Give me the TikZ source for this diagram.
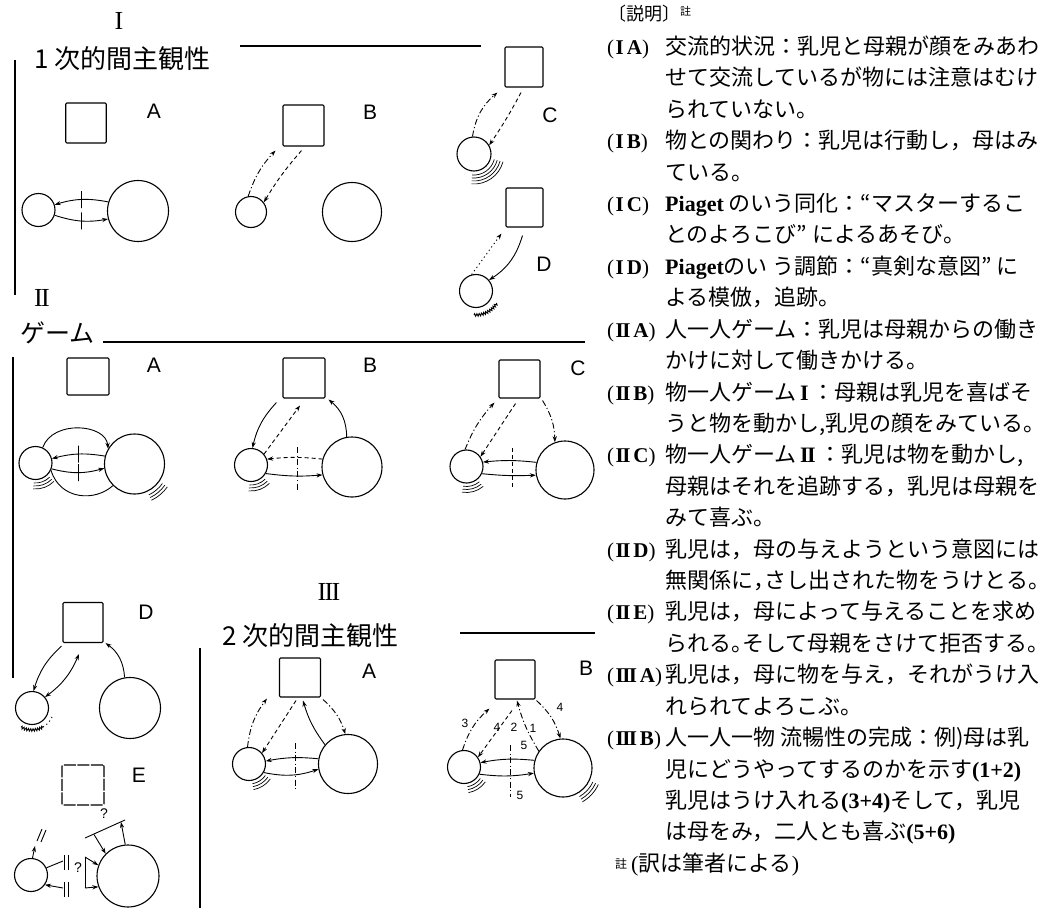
\documentclass[tikz,border=0pt]{standalone}
\usepackage{fontspec}
\setmainfont{Liberation Serif}
\newfontfamily\jp{Noto Sans CJK JP}
\newfontfamily\sa{Liberation Sans}
\usetikzlibrary{arrows.meta,calc,decorations.pathmorphing}
\newcommand\vibr[5]{%
  \foreach \k in {0,...,#3}{%
    \pgfmathsetmacro\rr{#2+3*\k}%
    \draw[vibl] ($(#1.center)+(#4:\rr pt)$) arc[start angle=#4,end angle=#5,radius=\rr pt];}}
\newcommand\RII{I\kern-1.6ptI}
\newcommand\RIII{I\kern-1.6ptI\kern-1.6ptI}
\newcommand\lat[1]{{\rmfamily\bfseries #1}}
\newcommand\labr[2]{(\hspace{1.5pt}\textbf{#1}\hspace{3pt}\textbf{#2})}
\newcommand\hp[1]{\makebox[0.5em][l]{#1}}
\newcommand\txline[4]{%
  \pgfmathsetmacro\yy{-(54.4+31.42*(#1-1))}%
  \node[lbl] (l#2) at (607,\yy) {#3};
  \node[txt] (t#2) at (665,\yy) {#4};}
\newcommand\txcont[3]{%
  \pgfmathsetmacro\yy{-(54.4+31.42*(#1-1))}%
  \node[txt] (t#2) at (665,\yy) {#3};}
\begin{document}
\begin{tikzpicture}[x=1pt,y=1pt,
 sq/.style={draw, line width=1.1pt, inner sep=0pt, rounded corners=1.2pt},
 cs/.style={circle, draw, line width=1.1pt, inner sep=0pt},
 con/.style={line width=0.9pt},
 arr/.style={con, -{Stealth[length=6pt,width=4.2pt]}},
 arrb/.style={con, {Stealth[length=6pt,width=4.2pt]}-{Stealth[length=6pt,width=4.2pt]}},
 dd/.style={dash pattern=on 6pt off 2.5pt on 1.2pt off 2.5pt},
 ds/.style={dash pattern=on 4pt off 3pt},
 dt/.style={dash pattern=on 1.2pt off 3pt},
 rule/.style={line width=1.1pt},
 vibl/.style={line width=0.7pt},
 tick/.style={draw, solid, line width=0.8pt, minimum width=0pt, minimum height=17pt, inner sep=0pt},
 lab/.style={font=\sa\fontsize{21}{21}\selectfont, inner sep=0pt},
 num/.style={font=\sa\fontsize{12}{12}\selectfont, inner sep=0pt},
 hdr/.style={anchor=west, inner sep=0pt, font=\jp\fontsize{26}{26}\selectfont},
 rn/.style={inner sep=0pt, font=\fontsize{26}{26}\selectfont},
 lbl/.style={anchor=base west, inner sep=0pt, font=\fontsize{21}{26}\selectfont},
 txt/.style={anchor=base west, inner sep=0pt, font=\jp\fontsize{22}{26}\selectfont},
]
\useasboundingbox (0,0) rectangle (1050,-910);
\fill[white] (0,0) rectangle (1050,-910);

%%%%%%%%%%%%%%%% Section I
\node[rn] (nI) at (119,-21) {I};
\node[hdr] (hI) at (34,-59) {1\hspace{6pt}次的間主観性};
\coordinate (rIa) at (240,-46); \coordinate (rIb) at (481,-46);
\draw[rule] (rIa) -- (rIb);
\coordinate (vIa) at (15,-60); \coordinate (vIb) at (15,-295);
\draw[rule] (vIa) -- (vIb);

% I A
\node[sq, minimum width=40.5pt, minimum height=40pt] (IAq) at (86,-123) {};
\node[lab] (IAl) at (154,-111) {A};
\node[cs, minimum size=33pt] (IAs) at (38.5,-210) {};
\node[cs, minimum size=61pt] (IAb) at (138,-211) {};
\draw[arr] (IAb.163) to[bend right=14] node[tick]{} (IAs.18);
\draw[arr] (IAs.-18) to[bend right=14] node[tick]{} (IAb.-165);

% I B
\node[sq, minimum size=41pt] (IBq) at (303.5,-125.5) {};
\node[lab] (IBl) at (370,-112) {B};
\node[cs, minimum size=31pt] (IBs) at (251,-212) {};
\node[cs, minimum size=59pt] (IBb) at (352,-212) {};
\draw[arr, dd] (IBs.100) to[bend left=12] ([shift={(-7pt,-4pt)}]IBq.south west);
\draw[arr, ds] ([shift={(-2pt,-4pt)}]IBq.south) to[bend right=5] (IBs.37);

% I C
\node[sq, minimum width=38pt, minimum height=40pt] (ICq) at (524,-67) {};
\node[lab] (ICl) at (550,-115) {C};
\node[cs, minimum size=34pt] (ICs) at (474,-154) {};
\draw[arr, dd] (ICs.95) to[bend left=20] ([shift={(-7pt,-5pt)}]ICq.south west);
\draw[arr, ds] ([shift={(-3pt,-5pt)}]ICq.south) to[bend left=3] (ICs.30);
\vibr{ICs}{21}{3}{-95}{-15}

% I D
\node[sq, minimum width=37pt, minimum height=39pt] (IDq) at (524.5,-207.5) {};
\node[lab] (IDl) at (544,-264) {D};
\node[cs, minimum size=33pt] (IDs) at (476,-291) {};
\draw[arr, dt] (IDs.105) -- ([shift={(-4pt,-6pt)}]IDq.south west);
\draw[arr] ([shift={(-2pt,-8pt)}]IDq.south) to[bend left=20] (IDs.40);
\draw[con, decorate, decoration={zigzag,segment length=2.4pt,amplitude=1.3pt}]
  ($(IDs.center)+(-95:24pt)$) arc[start angle=-95,end angle=-30,radius=24pt];

%%%%%%%%%%%%%%%% Section II
\node[rn] (nII) at (42,-298) {\RII};
\node[hdr, font=\jp\fontsize{25}{25}\selectfont] (hII) at (20,-333) {ゲーム};
\coordinate (rIIa) at (103,-342); \coordinate (rIIb) at (585,-342);
\draw[rule] (rIIa) -- (rIIb);
\coordinate (vIIa) at (13,-357); \coordinate (vIIb) at (13,-678);
\draw[rule] (vIIa) -- (vIIb);

% II A
\node[sq, minimum width=42pt, minimum height=37pt] (IIAq) at (88,-376.5) {};
\node[lab] (IIAl) at (154,-365) {A};
\node[cs, minimum size=33pt] (IIAs) at (35.5,-463) {};
\node[cs, minimum size=60pt] (IIAb) at (134.5,-464) {};
\draw[arr] (IIAs.65) .. controls +(10,28) and +(-2,25) .. (IIAb.150);
\draw[arr] (IIAb.165) to[bend right=12] node[tick]{} (IIAs.15);
\draw[arr] (IIAs.-20) to[bend right=15] node[tick]{} (IIAb.-172);
\draw[con] (IIAs.-25) .. controls (60,-500) and (95,-502) .. (IIAb.-135);
\vibr{IIAs}{20}{2}{-95}{-45}
\vibr{IIAb}{34}{2}{-65}{-35}

% II B
\node[sq, minimum width=42pt, minimum height=40pt] (IIBq) at (304,-378) {};
\node[lab] (IIBl) at (370,-365) {B};
\node[cs, minimum size=33pt] (IIBs) at (251,-465) {};
\node[cs, minimum size=60pt] (IIBb) at (352,-467) {};
\draw[arr] ([shift={(-6pt,-4pt)}]IIBq.south west) to[bend right=15] (IIBs.85);
\draw[arr, ds] (IIBs.40) -- ([shift={(-4pt,-7pt)}]IIBq.south);
\draw[arr] (IIBb.100) to[bend right=25] ([shift={(3pt,-1pt)}]IIBq.south east);
\draw[arr, ds] (IIBb.165) to[bend right=6] (IIBs.20);
\draw[arr] (IIBs.-30) to[bend right=6] (IIBb.-165);
\coordinate (IIBv1) at (297,-447); \coordinate (IIBv2) at (297,-490);
\draw[con, dd] (IIBv1) -- (IIBv2);
\vibr{IIBs}{20}{2}{-95}{-45}

% II C
\node[sq, minimum width=41pt, minimum height=38pt] (IICq) at (519.5,-379) {};
\node[lab] (IICl) at (578,-368) {C};
\node[cs, minimum size=33pt] (IICs) at (466.5,-466.5) {};
\node[cs, minimum size=58pt] (IICb) at (565,-470) {};
\draw[arr, dd] (IICs.95) to[bend left=10] ([shift={(-4pt,-4pt)}]IICq.south west);
\draw[arr, ds] ([shift={(-4pt,-5pt)}]IICq.south) -- (IICs.35);
\draw[arr, dd] ([shift={(2pt,-2pt)}]IICq.south east) to[bend left=15] (IICb.110);
\draw[arr] (IICb.165) to[bend right=6] (IICs.15);
\draw[arr] (IICs.-25) to[bend right=4] (IICb.-170);
\coordinate (IICv1) at (512,-448); \coordinate (IICv2) at (512,-488);
\draw[con, ds] (IICv1) -- (IICv2);
\vibr{IICs}{20}{2}{-100}{-50}

% II D
\node[sq, minimum size=40pt] (IIDq) at (83,-622.5) {};
\node[lab] (IIDl) at (146,-612) {D};
\node[cs, minimum size=33pt] (IIDs) at (32,-708) {};
\node[cs, minimum size=61pt] (IIDb) at (130,-708) {};
\draw[arr] ([shift={(-1pt,-3pt)}]IIDq.south west) to[bend right=15] (IIDs.85);
\draw[arrb] (IIDs.40) to[bend right=15] ([shift={(-4pt,-11pt)}]IIDq.south);
\draw[arr] (IIDb.100) to[bend right=25] ([shift={(2pt,0pt)}]IIDq.south east);
\draw[con, decorate, decoration={zigzag,segment length=2.4pt,amplitude=1.3pt}]
  ($(IIDs.center)+(-120:22pt)$) arc[start angle=-120,end angle=-60,radius=22pt];
\draw[con, dt] ($(IIDs.center)+(-60:22pt)$) arc[start angle=-60,end angle=-20,radius=22pt];

% II E
\node[sq, dash pattern=on 12pt off 1.5pt, minimum width=42pt, minimum height=40pt] (IIEq) at (83,-785) {};
\node[lab] (IIEl) at (139,-775) {E};
\node[cs, minimum size=33pt] (IIEs) at (31,-875) {};
\node[cs, minimum size=62pt] (IIEb) at (128,-876) {};
\coordinate (IIEu) at (35,-846);
\draw[arr] (IIEs.85) -- (IIEu);
\draw[con] (37,-841) -- (42,-829);
\draw[con] (41,-842) -- (46,-830);
\coordinate (IIEk1) at (63,-861);
\draw[con] (IIEs.25) -- (IIEk1);
\draw[con] (64,-855) -- (64,-870);
\draw[con] (68.5,-855) -- (68.5,-870);
\coordinate (IIEk2) at (63,-888);
\draw[arr] (IIEk2) -- (IIEs.-35);
\draw[con] (64,-882) -- (64,-897);
\draw[con] (68.5,-882) -- (68.5,-897);
\node[num, font=\sa\fontsize{14}{14}\selectfont] (IIEq1) at (78,-868) {?};
\coordinate (IIEb1) at (85,-857); \coordinate (IIEb2) at (85,-888);
\draw[con] (IIEb1) -- (IIEb2);
\draw[arr] (IIEb1) -- (IIEb.160);
\draw[arr] (IIEb2) -- (IIEb.-160);
\coordinate (IIEt1) at (85,-838); \coordinate (IIEt2) at (125,-820);
\draw[con] (IIEt1) -- (IIEt2);
\node[num, font=\sa\fontsize{14}{14}\selectfont] (IIEq2) at (104,-814) {?};
\coordinate (IIEt3) at (94,-834.5);
\draw[arr] (IIEt3) -- (IIEb.135);
\coordinate (IIEt4) at (121,-822);
\draw[arr] (IIEb.95) -- (IIEt4);

%%%%%%%%%%%%%%%% Section III
\node[rn] (nIII) at (329,-592) {\RIII};
\node[hdr] (hIII) at (222,-636) {2\hspace{6pt}次的間主観性};
\coordinate (rIIIa) at (460,-633); \coordinate (rIIIb) at (595,-633);
\draw[rule] (rIIIa) -- (rIIIb);
\coordinate (vIIIa) at (200,-648); \coordinate (vIIIb) at (200,-908);
\draw[rule] (vIIIa) -- (vIIIb);

% III A
\node[sq, minimum width=41pt, minimum height=39pt] (IIIAq) at (300,-677.5) {};
\node[lab] (IIIAl) at (369,-671) {A};
\node[cs, minimum size=33pt] (IIIAs) at (249,-764) {};
\node[cs, minimum size=59pt] (IIIAb) at (348,-764) {};
\draw[arr, dd] (IIIAs.95) to[bend left=15] ([shift={(-12pt,-1pt)}]IIIAq.south west);
\draw[arr, ds] ([shift={(-4pt,-3pt)}]IIIAq.south) -- (IIIAs.40);
\draw[arr] (IIIAb.140) to[bend left=10] ([shift={(3pt,-3pt)}]IIIAq.south);
\draw[arr, dd] ([shift={(2pt,-2pt)}]IIIAq.south east) to[bend left=15] (IIIAb.95);
\draw[arr] (IIIAb.170) to[bend right=8] (IIIAs.10);
\draw[arr] (IIIAs.-30) to[bend right=15] (IIIAb.-170);
\coordinate (IIIAv1) at (295,-743); \coordinate (IIIAv2) at (295,-790);
\draw[con, dd] (IIIAv1) -- (IIIAv2);
\vibr{IIIAs}{20}{2}{-80}{-35}

% III B
\node[sq, minimum width=40pt, minimum height=39pt] (IIIBq) at (515,-679.5) {};
\node[lab] (IIIBl) at (586,-668) {B};
\node[cs, minimum size=33pt] (IIIBs) at (464,-767) {};
\node[cs, minimum size=58pt] (IIIBb) at (563,-768) {};
\draw[arr, dd] (IIIBs.95) to[bend left=15] ([shift={(-5pt,-9pt)}]IIIBq.south west);
\draw[arr, ds] ([shift={(-3pt,-11pt)}]IIIBq.south) -- (IIIBs.35);
\draw[arr, dd] (IIIBb.145) to[bend left=8] ([shift={(2pt,-1pt)}]IIIBq.south);
\draw[arr, dd] ([shift={(1pt,-1pt)}]IIIBq.south east) to[bend left=15] (IIIBb.95);
\draw[arr] (IIIBb.165) to[bend right=8] (IIIBs.15);
\draw[arr] (IIIBs.-25) to[bend right=8] (IIIBb.-170);
\coordinate (IIIBv1) at (510,-745); \coordinate (IIIBv2) at (510,-797);
\draw[con, dd] (IIIBv1) -- (IIIBv2);
\node[num] (n3) at (465,-723) {3};
\node[num] (n4a) at (497,-727) {4};
\node[num] (n2) at (514,-727) {2};
\node[num] (n1) at (533,-728) {1};
\node[num] (n4b) at (560,-707) {4};
\node[num] (n5a) at (524,-745) {5};
\node[num] (n5b) at (520,-795) {5};
\vibr{IIIBs}{20}{2}{-80}{-35}
\vibr{IIIBb}{33}{2}{-60}{-25}

%%%%%%%%%%%%%%%% Right text column
\node[anchor=west, inner sep=0pt, font=\jp\fontsize{18}{18}\selectfont] (head) at (608,-14)
  {〔説明〕\raisebox{5pt}{\fontsize{11}{11}\selectfont 註}};
\txline{1}{IA}{\labr{I}{A}}{交流的状況：乳児と母親が顔をみあわ}
\txcont{2}{IAb}{せて交流しているが物には注意はむけ}
\txcont{3}{IAc}{られていない。}
\txline{4}{IB}{\labr{I}{B}}{物との関わり：乳児は行動し，母はみ}
\txcont{5}{IBb}{ている。}
\txline{6}{IC}{\labr{I}{C}}{\lat{Piaget} のいう同化：“マスターするこ}
\txcont{7}{ICb}{とのよろこび” によるあそび。}
\txline{8}{ID}{\labr{I}{D}}{\lat{Piaget}のい う調節：“真剣な意図” に}
\txcont{9}{IDb}{よる模倣，追跡。}
\txline{10}{IIA}{\labr{\RII}{A}}{人一人ゲーム：乳児は母親からの働き}
\txcont{11}{IIAb}{かけに対して働きかける。}
\txline{12}{IIB}{\labr{\RII}{B}}{物一人ゲーム\lat{\,I\,}：母親は乳児を喜ばそ}
\txcont{13}{IIBb}{うと物を動かし,乳児の顔をみている。}
\txline{14}{IIC}{\labr{\RII}{C}}{物一人ゲーム\lat{\,\RII\,}：乳児は物を動かし,}
\txcont{15}{IICb}{母親はそれを追跡する，乳児は母親を}
\txcont{16}{IICc}{みて喜ぶ。}
\txline{17}{IID}{\labr{\RII}{D}}{乳児は，母の与えようという意図には}
\txcont{18}{IIDb}{無関係に\hp{，}さし出された物をうけとる。}
\txline{19}{IIE}{\labr{\RII}{E}}{乳児は，母によって与えることを求め}
\txcont{20}{IIEb}{られる\hp{。}そして母親をさけて拒否する。}
\txline{21}{IIIA}{\labr{\RIII}{A}}{乳児は，母に物を与え，それがうけ入}
\txcont{22}{IIIAb}{れられてよろこぶ。}
\txline{23}{IIIB}{\labr{\RIII}{B}}{人一人一物 流暢性の完成：例)母は乳}
\txcont{24}{IIIBb}{児にどうやってするのかを示す\lat{(1+2)}}
\txcont{25}{IIIBc}{乳児はうけ入れる\lat{(3+4)}そして，乳児}
\txcont{26}{IIIBd}{は母をみ，二人とも喜ぶ\lat{(5+6)}}
\node[anchor=base west, inner sep=0pt, font=\jp\fontsize{22}{26}\selectfont] (note) at (615,-871.3)
  {\raisebox{3pt}{\fontsize{12}{12}\selectfont 註}\hspace{4pt}{\rmfamily (}訳は筆者による{\rmfamily )}};
\end{tikzpicture}
\end{document}
